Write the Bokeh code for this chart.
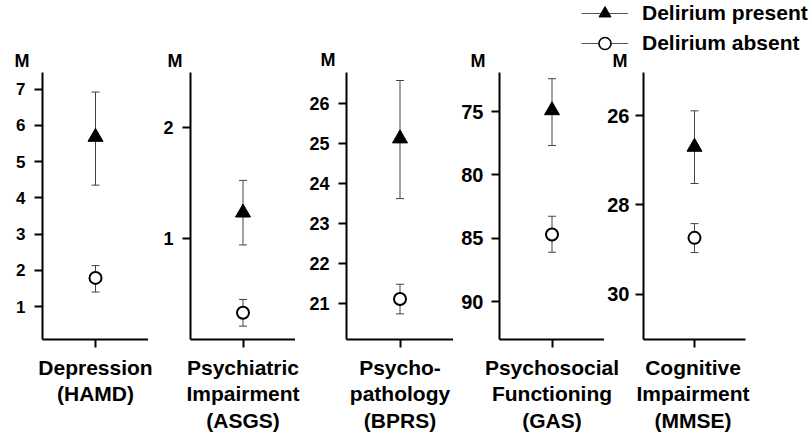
from bokeh.plotting import figure
from bokeh.models import (Range1d, FactorRange, Whisker, TeeHead, ColumnDataSource,
                          FixedTicker, Legend, LegendItem)
from bokeh.layouts import column, row
from bokeh.embed import file_html
from bokeh.resources import INLINE
from bokeh.core.properties import value

# ---------------- data ----------------
scales = ["Depression\n(HAMD)",
          "Psychiatric\nImpairment\n(ASGS)",
          "Psycho-\npathology\n(BPRS)",
          "Psychosocial\nFunctioning\n(GAS)",
          "Cognitive\nImpairment\n(MMSE)"]
series = ["Delirium present", "Delirium absent"]
present_mean = [5.68, 1.23, 25.13, 74.9, 26.70]
present_low = [4.35, 0.94, 23.63, 72.4, 25.89]
present_high = [6.92, 1.52, 26.58, 77.67, 27.52]
absent_mean = [1.79, 0.33, 21.12, 84.7, 28.74]
absent_low = [1.40, 0.21, 20.75, 83.26, 28.42]
absent_high = [2.13, 0.45, 21.49, 86.1, 29.07]
y_ticks = [[1, 2, 3, 4, 5, 6, 7], [1, 2], [21, 22, 23, 24, 25, 26], [75, 80, 85, 90], [26, 28, 30]]
y_bottom = [0.09, 0.09, 20.11, 92.99, 31.02]   # value at bottom of axis (GAS, MMSE reversed)
y_top = [7.46, 2.49, 26.78, 71.91, 25.03]
unit_labels = ["M", "M", "M", "M", "M"]

# ---------------- layout (canvas pixels) ----------------
FONT = "Liberation Sans"
W, H = 812, 436
fig_start = [0, 148, 295, 453, 604]
fig_end = [148, 295, 453, 604, W]
frame_left = [42, 190, 346, 499, 640]
frame_right = [148, 295, 453, 604, 745]
frame_top = [71, 71, 71, 72, 71]
frame_bottom = [339, 339, 339, 343, 339]
tick_font = ["17px", "18px", "18px", "20px", "20px"]
tick_standoff = [9, 9, 9, 8, 6]
m_right = [29, 182, 335, 485, 627]      # right edge of the "M" unit labels
m_top = [50, 50, 49, 50, 50]            # top of the "M" unit label boxes
ROW_TOP = 71
ROW_BOTTOM = 352

panels = []
for i in range(5):
    cat = scales[i]
    p = figure(x_range=FactorRange(factors=[cat]),
               y_range=Range1d(y_bottom[i], y_top[i]),
               width=fig_end[i] - fig_start[i], height=ROW_BOTTOM - ROW_TOP,
               min_border_left=frame_left[i] - fig_start[i],
               min_border_right=fig_end[i] - frame_right[i],
               min_border_top=frame_top[i] - ROW_TOP,
               min_border_bottom=ROW_BOTTOM - frame_bottom[i],
               output_backend="svg", toolbar_location=None)
    p.outline_line_color = None
    p.grid.visible = False

    ya = p.yaxis[0]
    ya.ticker = FixedTicker(ticks=y_ticks[i])
    ya.axis_line_width = 2
    ya.axis_line_color = "black"
    ya.major_tick_line_width = 2
    ya.major_tick_out = 8
    ya.major_tick_in = 0
    ya.minor_tick_line_color = None
    ya.major_label_standoff = tick_standoff[i]
    ya.major_label_text_font = FONT
    ya.major_label_text_font_style = "bold"
    ya.major_label_text_font_size = tick_font[i]
    ya.major_label_text_color = "black"

    xa = p.xaxis[0]
    xa.axis_line_width = 2
    xa.axis_line_color = "black"
    xa.major_tick_line_width = 2
    xa.major_tick_out = 8
    xa.major_tick_in = 0
    xa.minor_tick_line_color = None
    xa.major_label_overrides = {cat: ""}
    xa.major_label_text_color = None
    xa.major_label_text_font_size = "1px"
    xa.major_label_standoff = 0

    src_p = ColumnDataSource(dict(x=[cat], m=[present_mean[i]], lo=[present_low[i]], hi=[present_high[i]]))
    src_a = ColumnDataSource(dict(x=[cat], m=[absent_mean[i]], lo=[absent_low[i]], hi=[absent_high[i]]))
    for src in (src_p, src_a):
        w = Whisker(source=src, base="x", lower="lo", upper="hi", dimension="height",
                    line_color="#444444", line_width=1, level="underlay",
                    upper_head=TeeHead(size=8, line_color="#444444", line_width=1),
                    lower_head=TeeHead(size=8, line_color="#444444", line_width=1))
        p.add_layout(w)
    p.scatter(x="x", y="m", source=src_p, marker="triangle", size=15,
              fill_color="black", line_color="black")
    p.scatter(x="x", y="m", source=src_a, marker="circle", size=12,
              fill_color="white", line_color="black", line_width=2)
    panels.append(p)

# ---------------- top strip: legend + unit labels ----------------
nan = float("nan")
top_h = ROW_TOP
leg = figure(x_range=Range1d(0, W), y_range=Range1d(top_h, 0), width=W, height=top_h,
             min_border=0, output_backend="svg", toolbar_location=None)
leg.axis.visible = False
leg.grid.visible = False
leg.outline_line_color = None
leg.text(x=m_right, y=m_top, text=unit_labels,
         text_align="right", text_baseline="top", text_font=value(FONT),
         text_font_style="bold", text_font_size="18px", text_color="black")
l1 = leg.line(x=[nan, nan], y=[nan, nan], line_color="#555555", line_width=1.2)
s1 = leg.scatter(x=[nan], y=[nan], marker="triangle", fill_color="black", line_color="black")
l2 = leg.line(x=[nan, nan], y=[nan, nan], line_color="#555555", line_width=1.2)
s2 = leg.scatter(x=[nan], y=[nan], marker="circle", fill_color="white", line_color="black", line_width=1.6)
legend = Legend(items=[LegendItem(label=series[0], renderers=[l1, s1]),
                       LegendItem(label=series[1], renderers=[l2, s2])],
                location=(581, 13), glyph_width=47, glyph_height=30, label_standoff=14,
                spacing=-4, padding=0, margin=0, border_line_color=None,
                background_fill_alpha=0, label_text_font=FONT, label_text_font_style="bold",
                label_text_font_size="21px", label_text_color="black")
leg.add_layout(legend)

# ---------------- category labels strip ----------------
centers = [(frame_left[i] + frame_right[i]) / 2 for i in range(5)]
lab_h = H - ROW_BOTTOM
lab = figure(x_range=Range1d(0, W), y_range=Range1d(lab_h, 0), width=W, height=lab_h,
             min_border=0, output_backend="svg", toolbar_location=None)
lab.axis.visible = False
lab.grid.visible = False
lab.outline_line_color = None
lab.text(x=centers, y=[3] * 5, text=scales, text_align="center", text_baseline="top",
         text_font=value(FONT), text_font_style="bold", text_font_size="21px",
         text_line_height=1.17, text_color="black")

layout = column(leg, row(*panels), lab)
open("out.html", "w").write(file_html(layout, INLINE))
